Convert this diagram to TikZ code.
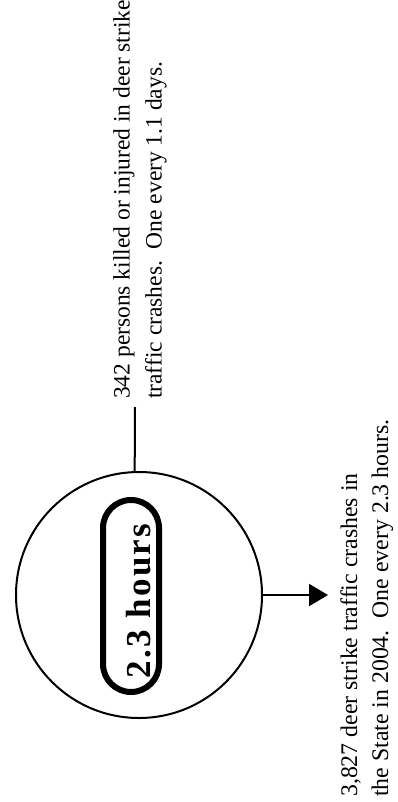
\documentclass[tikz,border=0pt]{standalone}
\usepackage{fontspec}
\setmainfont{Liberation Serif}
\newfontfamily\boldlabel[LetterSpace=7]{Liberation Serif Bold}
\usetikzlibrary{arrows.meta}
\tikzset{
  ring/.style={circle, draw, line width=2pt, minimum size=246pt, inner sep=0pt},
  pill/.style={draw, line width=6pt, rounded corners=28pt, rotate=90,
    minimum width=192pt, minimum height=56pt, inner sep=0pt,
    text height=40pt, text depth=2pt, font=\boldlabel\fontsize{35}{40}\selectfont},
  note/.style={rotate=90, anchor=base west, align=left, inner sep=0pt,
    font=\fontsize{23.5}{32}\selectfont},
  link/.style={line width=2pt},
}
\begin{document}
\begin{tikzpicture}[x=1pt, y=-1pt]
\useasboundingbox (0,0) rectangle (398,802);
\node[ring] (c) at (139,595) {};
\node[pill] (h) at (131,596) {2.3 hours\hspace*{10pt}};
\node[note] (t1) at (161.5,399) {342 persons killed or injured in deer strike\\traffic crashes.\ \ One every 1.1 days.};
\node[note, font=\fontsize{23.8}{31}\selectfont] (t2) at (388,797) {3,827 deer strike traffic crashes in\\the State in 2004.\ \ One every 2.3 hours.};
\coordinate (top) at (135,407);
\coordinate (tip) at (328,595);
\draw[link] (c.92) -- (top);
\draw[link, -{Triangle[length=19pt, width=22pt]}] (c.east) -- (tip);
\end{tikzpicture}
\end{document}
